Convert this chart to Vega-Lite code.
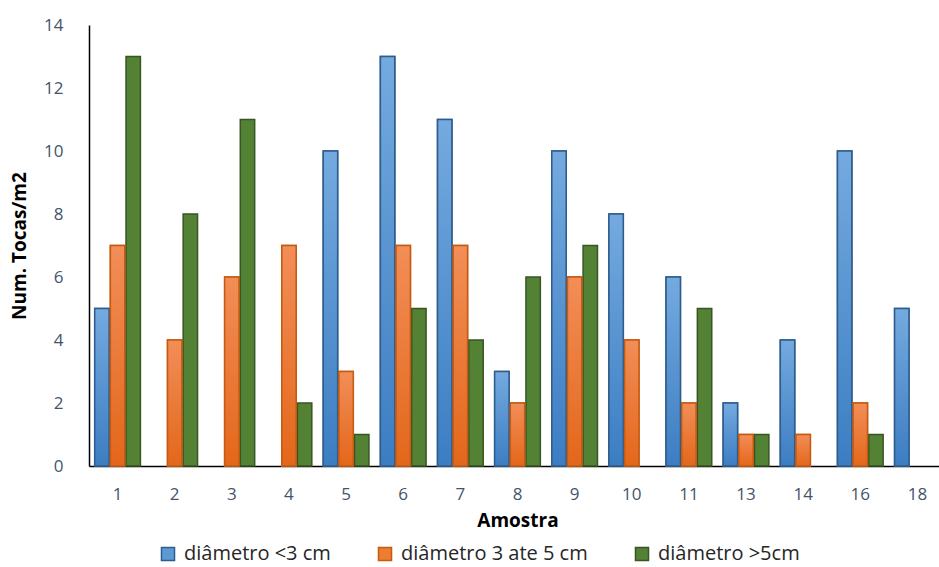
{
  "$schema": "https://vega.github.io/schema/vega-lite/v6.json",
  "width": 857,
  "height": 441,
  "autosize": "none",
  "padding": {"left": 89, "top": 25, "right": -7, "bottom": 101},
  "background": "white",
  "config": {
    "view": {"stroke": null},
    "font": "Open Sans"
  },
  "data": {
    "values": [
      {"amostra": "1", "serie": "diâmetro <3 cm", "tocas": 5},
      {"amostra": "1", "serie": "diâmetro 3 ate 5 cm", "tocas": 7},
      {"amostra": "1", "serie": "diâmetro >5cm", "tocas": 13},
      {"amostra": "2", "serie": "diâmetro 3 ate 5 cm", "tocas": 4},
      {"amostra": "2", "serie": "diâmetro >5cm", "tocas": 8},
      {"amostra": "3", "serie": "diâmetro 3 ate 5 cm", "tocas": 6},
      {"amostra": "3", "serie": "diâmetro >5cm", "tocas": 11},
      {"amostra": "4", "serie": "diâmetro 3 ate 5 cm", "tocas": 7},
      {"amostra": "4", "serie": "diâmetro >5cm", "tocas": 2},
      {"amostra": "5", "serie": "diâmetro <3 cm", "tocas": 10},
      {"amostra": "5", "serie": "diâmetro 3 ate 5 cm", "tocas": 3},
      {"amostra": "5", "serie": "diâmetro >5cm", "tocas": 1},
      {"amostra": "6", "serie": "diâmetro <3 cm", "tocas": 13},
      {"amostra": "6", "serie": "diâmetro 3 ate 5 cm", "tocas": 7},
      {"amostra": "6", "serie": "diâmetro >5cm", "tocas": 5},
      {"amostra": "7", "serie": "diâmetro <3 cm", "tocas": 11},
      {"amostra": "7", "serie": "diâmetro 3 ate 5 cm", "tocas": 7},
      {"amostra": "7", "serie": "diâmetro >5cm", "tocas": 4},
      {"amostra": "8", "serie": "diâmetro <3 cm", "tocas": 3},
      {"amostra": "8", "serie": "diâmetro 3 ate 5 cm", "tocas": 2},
      {"amostra": "8", "serie": "diâmetro >5cm", "tocas": 6},
      {"amostra": "9", "serie": "diâmetro <3 cm", "tocas": 10},
      {"amostra": "9", "serie": "diâmetro 3 ate 5 cm", "tocas": 6},
      {"amostra": "9", "serie": "diâmetro >5cm", "tocas": 7},
      {"amostra": "10", "serie": "diâmetro <3 cm", "tocas": 8},
      {"amostra": "10", "serie": "diâmetro 3 ate 5 cm", "tocas": 4},
      {"amostra": "11", "serie": "diâmetro <3 cm", "tocas": 6},
      {"amostra": "11", "serie": "diâmetro 3 ate 5 cm", "tocas": 2},
      {"amostra": "11", "serie": "diâmetro >5cm", "tocas": 5},
      {"amostra": "13", "serie": "diâmetro <3 cm", "tocas": 2},
      {"amostra": "13", "serie": "diâmetro 3 ate 5 cm", "tocas": 1},
      {"amostra": "13", "serie": "diâmetro >5cm", "tocas": 1},
      {"amostra": "14", "serie": "diâmetro <3 cm", "tocas": 4},
      {"amostra": "14", "serie": "diâmetro 3 ate 5 cm", "tocas": 1},
      {"amostra": "16", "serie": "diâmetro <3 cm", "tocas": 10},
      {"amostra": "16", "serie": "diâmetro 3 ate 5 cm", "tocas": 2},
      {"amostra": "16", "serie": "diâmetro >5cm", "tocas": 1},
      {"amostra": "18", "serie": "diâmetro <3 cm", "tocas": 5}
    ]
  },
  "encoding": {
    "x": {
      "field": "amostra",
      "type": "ordinal",
      "sort": ["1", "2", "3", "4", "5", "6", "7", "8", "9", "10", "11", "13", "14", "16", "18"],
      "scale": {"paddingInner": 0.2, "paddingOuter": 0.1},
      "axis": {
        "title": "Amostra",
        "titleFont": "Open Sans",
        "titleFontSize": 19,
        "titleFontWeight": "bold",
        "titleColor": "#000000",
        "titlePadding": 9,
        "labelAngle": 0,
        "labelFont": "Open Sans",
        "labelFontSize": 17,
        "labelColor": "#44546A",
        "labelPadding": 20,
        "ticks": false,
        "domainColor": "#000000",
        "domainWidth": 1.5,
        "grid": false
      }
    },
    "xOffset": {
      "field": "serie",
      "type": "nominal",
      "scale": {
        "domain": ["diâmetro <3 cm", "diâmetro 3 ate 5 cm", "diâmetro >5cm"],
        "paddingInner": 0.08
      }
    },
    "y": {
      "field": "tocas",
      "type": "quantitative",
      "scale": {"domain": [0, 14], "nice": false},
      "axis": {
        "title": "Num. Tocas/m2",
        "titleFont": "Open Sans",
        "titleFontSize": 19,
        "titleFontWeight": "bold",
        "titleColor": "#000000",
        "titlePadding": 14,
        "values": [0, 2, 4, 6, 8, 10, 12, 14],
        "labelFont": "Open Sans",
        "labelFontSize": 17,
        "labelColor": "#44546A",
        "labelPadding": 26,
        "ticks": false,
        "domainColor": "#000000",
        "domainWidth": 1.5,
        "grid": false
      }
    }
  },
  "layer": [
    {
      "mark": {"type": "bar", "strokeWidth": 1.5},
      "encoding": {
        "fill": {
          "field": "serie",
          "type": "nominal",
          "scale": {
            "domain": ["diâmetro <3 cm", "diâmetro 3 ate 5 cm", "diâmetro >5cm"],
            "range": ["#5B9BD5", "#ED7D31", "#548235"]
          },
          "legend": {
            "orient": "none",
            "legendX": 69,
            "legendY": 519,
            "direction": "horizontal",
            "title": null,
            "symbolType": "square",
            "symbolSize": 170,
            "symbolStrokeWidth": 1.5,
            "labelFont": "Open Sans",
            "labelFontSize": 20,
            "labelColor": "#262626",
            "labelOffset": 6,
            "labelLimit": 400,
            "columnPadding": 44
          }
        },
        "stroke": {
          "field": "serie",
          "type": "nominal",
          "scale": {
            "domain": ["diâmetro <3 cm", "diâmetro 3 ate 5 cm", "diâmetro >5cm"],
            "range": ["#2E5C8C", "#C55A11", "#375623"]
          },
          "legend": null
        }
      }
    },
    {
      "transform": [{"filter": "datum.serie === 'diâmetro <3 cm'"}],
      "mark": {
        "type": "bar",
        "strokeWidth": 1.5,
        "stroke": "#2E5C8C",
        "fill": {"gradient": "linear", "x1": 0, "y1": 0, "x2": 0, "y2": 1, "stops": [{"offset": 0, "color": "#74AADF"}, {"offset": 1, "color": "#3C7DC2"}]}
      }
    },
    {
      "transform": [{"filter": "datum.serie === 'diâmetro 3 ate 5 cm'"}],
      "mark": {
        "type": "bar",
        "strokeWidth": 1.5,
        "stroke": "#C55A11",
        "fill": {"gradient": "linear", "x1": 0, "y1": 0, "x2": 0, "y2": 1, "stops": [{"offset": 0, "color": "#F28E58"}, {"offset": 1, "color": "#E3671A"}]}
      }
    }
  ]
}
